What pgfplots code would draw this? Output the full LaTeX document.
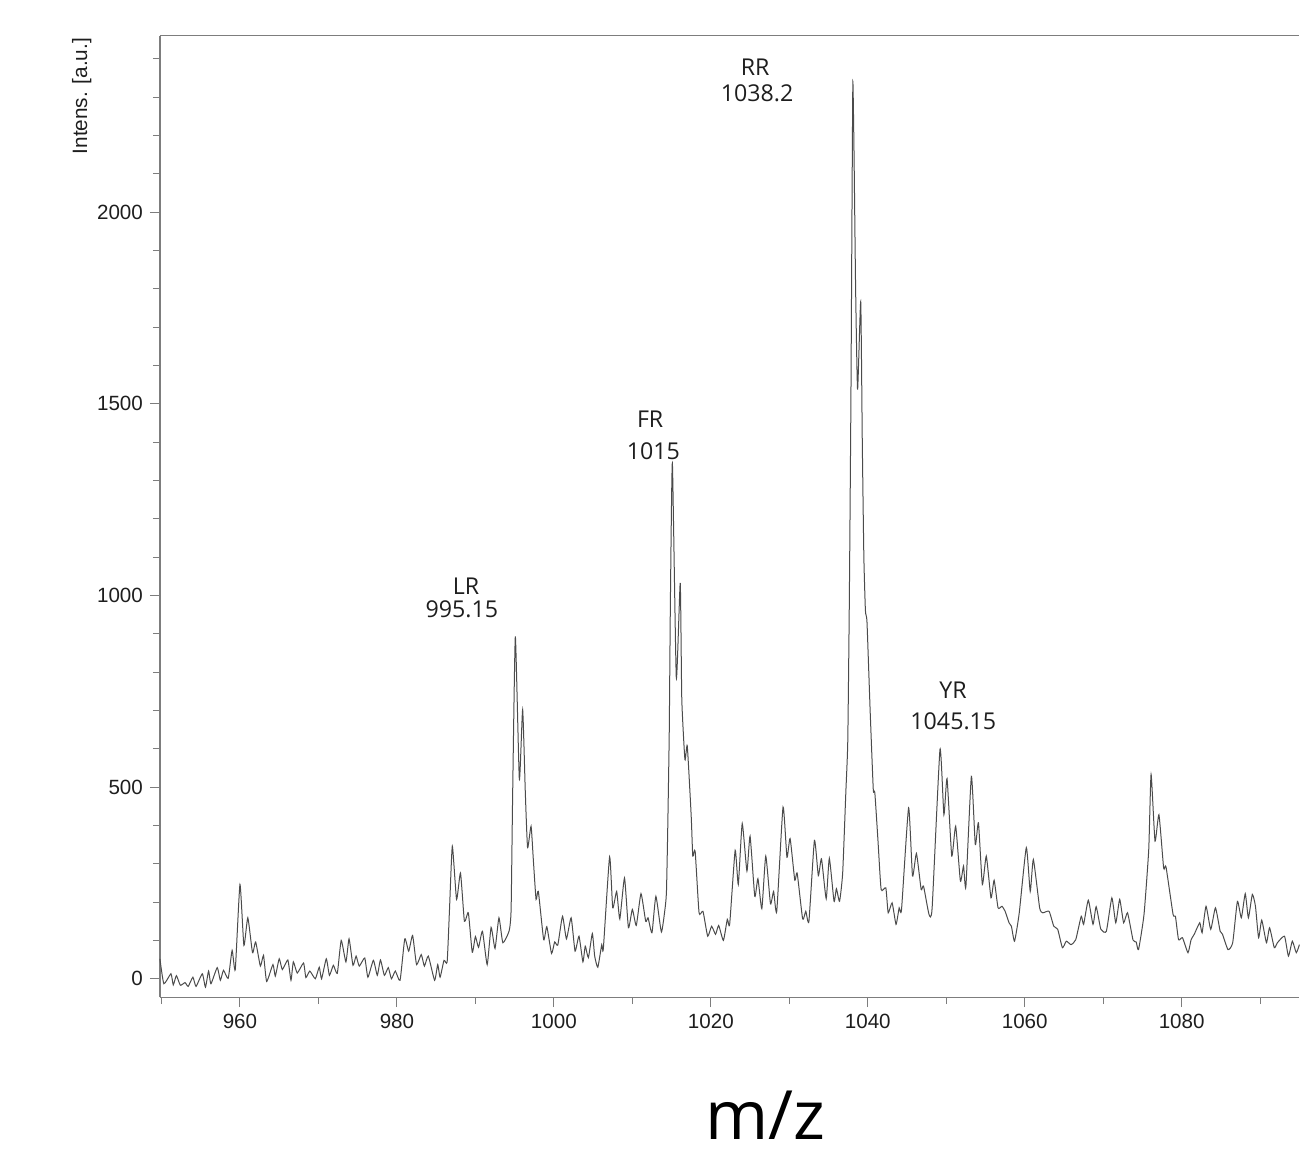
\documentclass[border=0pt]{standalone}
\usepackage{fontspec}
\setmainfont{Liberation Sans}
\newfontfamily\annot{Open Sans}
\usepackage{pgfplots}
\usepackage{pgfplotstable}
\pgfplotsset{compat=1.18}
\definecolor{trace}{RGB}{75,75,75}
\definecolor{frame}{RGB}{125,125,125}
\definecolor{txt}{RGB}{30,30,30}

% spectrum (m/z, intensity)
\pgfplotstableread{
mz int
949.8 52
950.3 -13
951.2 13
951.5 -16
951.9 8
952.4 -17
953.0 -10
953.4 -20
954.0 4
954.4 -20
955.2 13
955.6 -22
956.0 20
956.3 -13
957.1 29
957.5 -4
957.9 22
958.5 1
959.0 74
959.4 24
960.0 246
960.5 87
961.0 159
961.6 68
962.0 96
962.6 33
963.0 61
963.4 -7
964.2 37
964.5 7
965.0 52
965.4 24
966.1 49
966.5 -4
966.8 44
967.3 15
968.1 41
968.4 3
968.9 20
969.6 0
970.1 30
970.4 0
971.0 52
971.4 9
971.9 35
972.4 14
972.9 100
973.5 44
973.9 104
974.4 35
974.8 59
975.2 33
975.9 54
976.3 4
977.0 48
977.5 9
977.9 49
978.4 9
978.9 29
979.3 0
979.8 20
980.4 -4
981.0 104
981.5 72
982.0 113
982.5 37
983.1 63
983.5 33
984.0 59
984.8 -4
985.2 37
985.5 4
986.0 48
986.4 44
986.7 181
987.06 346
987.6 207
988.1 276
988.6 150
989.1 172
989.6 69
990.0 110
990.4 82
990.9 124
991.5 37
992.0 134
992.5 79
993.0 159
993.5 94
994.3 125
994.55 181
994.75 486
995.09 893
995.6 520
996.02 702
996.36 486
996.65 342
997.09 398
997.38 311
997.73 207
998.02 228
998.7 102
999.1 136
999.7 66
1000.1 96
1000.5 88
1001.1 163
1001.6 104
1002.2 159
1002.7 72
1003.2 111
1003.7 44
1004.0 85
1004.4 55
1004.9 118
1005.2 59
1005.6 30
1006.1 89
1006.3 78
1007.1 318
1007.5 185
1008.0 228
1008.4 156
1009.0 263
1009.5 133
1010.0 181
1010.5 139
1011.1 222
1011.7 150
1012.0 159
1012.5 120
1013.0 215
1013.7 122
1014.2 189
1014.35 230
1014.5 381
1014.7 641
1014.85 990
1015.1 1346
1015.6 785
1016.1 1033
1016.3 729
1016.7 572
1017.0 607
1017.5 424
1017.7 320
1018.0 333
1018.5 172
1019.0 176
1019.6 111
1020.1 137
1020.6 116
1021.0 139
1021.6 100
1022.1 155
1022.4 142
1023.1 335
1023.5 246
1024.0 405
1024.6 281
1025.0 372
1025.6 215
1026.0 261
1026.5 183
1027.0 320
1027.6 196
1028.0 228
1028.4 176
1029.2 448
1029.7 317
1030.1 366
1030.7 257
1031.0 276
1031.7 156
1032.1 176
1032.5 150
1033.2 361
1033.7 269
1034.1 313
1034.7 209
1035.1 314
1035.7 202
1036.0 235
1036.4 202
1036.8 276
1037.2 485
1037.45 620
1037.65 990
1037.85 1511
1038.0 2050
1038.1 2341
1038.25 2150
1038.45 1800
1038.7 1537
1039.1 1767
1039.3 1400
1039.5 1100
1039.7 960
1039.9 930
1040.3 700
1040.7 494
1040.9 485
1041.3 360
1041.7 233
1042.3 237
1042.6 172
1043.1 198
1043.6 142
1044.0 185
1044.3 181
1045.2 446
1045.7 268
1046.2 327
1046.8 233
1047.1 242
1047.8 168
1048.2 185
1049.2 598
1049.7 428
1050.1 522
1050.7 320
1051.2 398
1051.8 255
1052.2 294
1052.5 240
1053.2 528
1053.7 350
1054.1 407
1054.6 246
1055.1 320
1055.7 211
1056.1 257
1056.6 185
1057.1 189
1057.5 176
1058.0 146
1058.3 137
1058.7 98
1059.3 172
1060.2 342
1060.7 228
1061.1 311
1061.9 185
1062.3 172
1063.1 176
1063.7 137
1064.2 129
1064.8 81
1065.3 98
1065.9 89
1066.5 102
1067.2 163
1067.5 142
1068.1 205
1068.7 142
1069.1 188
1069.7 129
1070.4 124
1071.1 211
1071.6 146
1072.1 207
1072.6 146
1073.1 172
1073.8 101
1074.2 96
1074.5 76
1075.2 168
1075.8 337
1076.1 533
1076.6 359
1077.1 428
1077.7 289
1078.0 292
1078.9 168
1079.2 163
1079.6 102
1080.1 107
1080.8 68
1081.2 102
1081.6 116
1082.3 146
1082.6 120
1083.1 189
1083.7 129
1084.3 185
1084.9 124
1085.2 116
1085.9 76
1086.5 94
1087.1 202
1087.6 159
1088.1 222
1088.5 159
1089.0 220
1089.4 189
1089.8 107
1090.2 153
1090.8 94
1091.2 133
1091.8 81
1092.2 94
1093.1 111
1093.6 59
1094.1 98
1094.6 68
1095.0 89
}\spectrum

\begin{document}
\begin{tikzpicture}
\begin{axis}[
  scale only axis, width=570pt, height=481pt,
  xmin=949.8, xmax=1095, ymin=-48, ymax=2461,
  axis x line*=box, axis y line*=left,
  axis line style={frame, line width=0.6pt},
  xtick={960,980,...,1080}, minor xtick={950,970,...,1090},
  ytick={0,500,...,2000}, minor ytick={100,200,...,2400},
  xtick pos=left, ytick pos=left,
  tick align=outside,
  major tick length=5pt, minor tick length=3.5pt,
  tick style={frame, line width=0.5pt},
  ticklabel style={font=\fontsize{10.3}{12}\selectfont, text=txt},
  /pgf/number format/assume math mode=true,
  /pgf/number format/set thousands separator={},
  scaled y ticks=false,
  clip=false,
]
\addplot[trace, line width=0.5pt, smooth, tension=0.3] table[x=mz, y=int] {\spectrum};

\coordinate (ll) at (rel axis cs:0,0);
\coordinate (ur) at (rel axis cs:1,1);
\coordinate (tl) at (rel axis cs:0,1);
\coordinate (mz) at (rel axis cs:0.531,0);

\begin{scope}[every node/.style={font=\annot\fontsize{11.6}{13}\selectfont, text=txt, inner sep=0pt}]
\node at (axis cs:988.8,1023) {LR};
\node at (axis cs:988.27,963) {995.15};
\node at (axis cs:1012.27,1461) {FR};
\node at (axis cs:1012.67,1376) {1015};
\node at (axis cs:1025.65,2379) {RR};
\node at (axis cs:1025.9,2311) {1038.2};
\node at (axis cs:1050.87,754) {YR};
\node at (axis cs:1050.9,672) {1045.15};
\end{scope}
\end{axis}
\path ([xshift=-80pt,yshift=-79.6pt]ll) ([yshift=17.8pt]ur);
\node[rotate=90, anchor=south east, inner sep=0pt, text=txt,
  font=\fontsize{10.4}{12}\selectfont] at ([xshift=-34pt,yshift=-1pt]tl) {Intens. [a.u.]};
\node[font=\annot\fontsize{34}{40}\selectfont, text=black, inner sep=0pt] at ([yshift=-59pt]mz) {m/z};
\end{tikzpicture}
\end{document}
